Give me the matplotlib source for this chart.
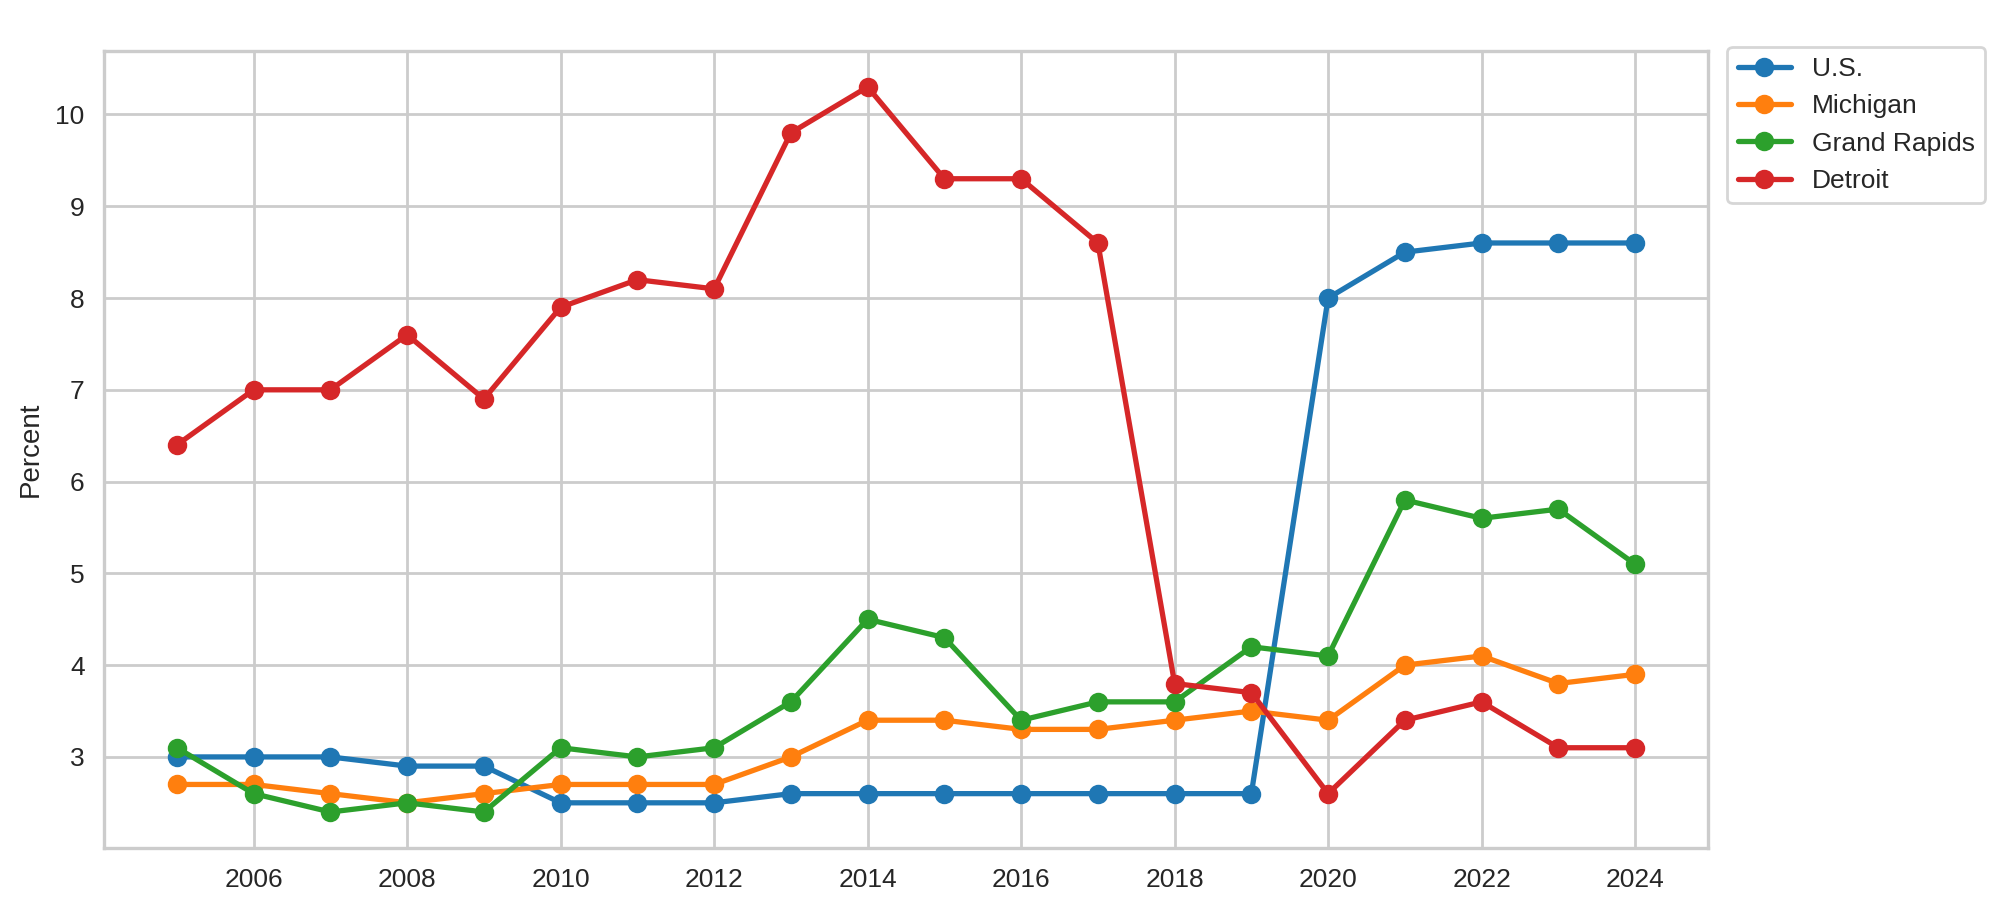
import matplotlib as mpl
mpl.use('Agg')
import matplotlib.pyplot as plt
from matplotlib.ticker import MultipleLocator
import seaborn as sns

years = list(range(2005, 2025))
us = [3.0, 3.0, 3.0, 2.9, 2.9, 2.5, 2.5, 2.5, 2.6, 2.6,
      2.6, 2.6, 2.6, 2.6, 2.6, 8.0, 8.5, 8.6, 8.6, 8.6]
michigan = [2.7, 2.7, 2.6, 2.5, 2.6, 2.7, 2.7, 2.7, 3.0, 3.4,
            3.4, 3.3, 3.3, 3.4, 3.5, 3.4, 4.0, 4.1, 3.8, 3.9]
grand_rapids = [3.1, 2.6, 2.4, 2.5, 2.4, 3.1, 3.0, 3.1, 3.6, 4.5,
                4.3, 3.4, 3.6, 3.6, 4.2, 4.1, 5.8, 5.6, 5.7, 5.1]
detroit = [6.4, 7.0, 7.0, 7.6, 6.9, 7.9, 8.2, 8.1, 9.8, 10.3,
           9.3, 9.3, 8.6, 3.8, 3.7, 2.6, 3.4, 3.6, 3.1, 3.1]

series = [('U.S.', us, '#1f77b4'),
          ('Michigan', michigan, '#ff7f0e'),
          ('Grand Rapids', grand_rapids, '#2ca02c'),
          ('Detroit', detroit, '#d62728')]

sns.set_style('whitegrid')
plt.rcParams['font.family'] = ['Liberation Sans', 'DejaVu Sans']
plt.rcParams['font.size'] = 10

fig = plt.figure(figsize=(10, 4.61), dpi=200)
ax = fig.add_axes([0.052, 0.08, 0.802, 0.865])

for name, vals, col in series:
    ax.plot(years, vals, marker='o', color=col, linewidth=1.9,
            markersize=6, label=name)

ax.xaxis.set_major_locator(MultipleLocator(2))
ax.set_ylabel('Percent', fontsize=10, color='.15')
ax.tick_params(labelsize=9.5, colors='.15')
for s in ax.spines.values():
    s.set_color('.8')
    s.set_linewidth(1.2)
ax.grid(color='.8', linewidth=1.0)

ax.legend(loc='upper left', bbox_to_anchor=(1.012, 1.005), fontsize=9.5,
          frameon=True, borderaxespad=0.)

fig.savefig('out.png', dpi=200)
